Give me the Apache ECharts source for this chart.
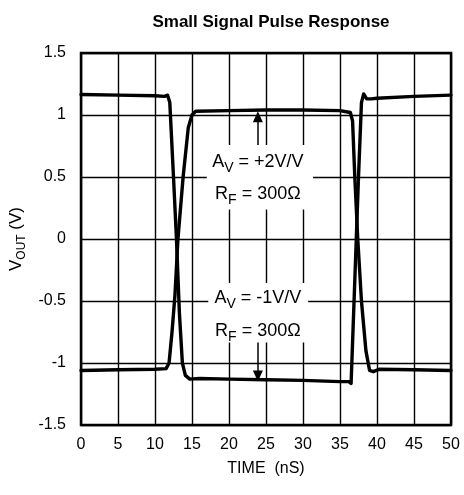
<!DOCTYPE html>
<html><head><meta charset="utf-8">
<script src="https://cdn.jsdelivr.net/npm/echarts/dist/echarts.min.js"></script>
<style>html,body{margin:0;padding:0;background:#fff}#c{width:464px;height:495px}</style>
</head><body><div id="c"></div>
<script>
// Inverting trace (A_V = -1V/V)
const timeInv = [0, 5, 10, 11.3, 11.7, 12.0, 12.5, 12.9, 13.3, 13.7, 14.1, 14.7, 16, 20, 25, 30, 35, 36.2, 36.5, 36.9, 37.2, 37.5, 37.9, 38.2, 38.6, 39.2, 40, 45, 50];
const voutInv = [1.165, 1.16, 1.155, 1.15, 1.16, 1.10, 0.5, 0.0, -0.6, -1.0, -1.1, -1.13, -1.125, -1.13, -1.135, -1.14, -1.15, -1.15, -1.165, -0.5, 0.0, 0.5, 1.1, 1.17, 1.13, 1.13, 1.135, 1.15, 1.16];
// Non-inverting trace (A_V = +2V/V)
const timeNon = [0, 5, 10, 11.5, 11.9, 12.3, 12.7, 13.1, 13.8, 14.5, 15.0, 15.5, 20, 25, 30, 35, 36.4, 36.7, 37.0, 37.4, 37.9, 38.5, 39.0, 39.5, 40.3, 45, 50];
const voutNon = [-1.06, -1.055, -1.05, -1.045, -1.0, -0.75, -0.45, 0.0, 0.5, 0.9, 1.0, 1.03, 1.035, 1.04, 1.04, 1.035, 1.02, 0.95, 0.5, 0.0, -0.5, -0.9, -1.06, -1.07, -1.05, -1.055, -1.06];
const xTicks = [0, 5, 10, 15, 20, 25, 30, 35, 40, 45, 50];
const yTicks = [-1.5, -1, -0.5, 0, 0.5, 1, 1.5];

const chart = echarts.init(document.getElementById('c'), null, {renderer: 'canvas'});
const FONT = '"Liberation Sans", Arial, sans-serif';

const annotations = [
  {lines: ['{a|A}{s|V}{a| = +2V/V}', '{a|R}{s|F}{a| = 300Ω}'], box: [17.0, 0.758, 31.35, 0.238], tx: 23.9, ty: [0.62, 0.365]},
  {lines: ['{a|A}{s|V}{a| = -1V/V}', '{a|R}{s|F}{a| = 300Ω}'], box: [17.2, -0.354, 30.7, -0.834], tx: 23.9, ty: [-0.48, -0.74]}
];

const option = {
  animation: false,
  backgroundColor: '#fff',
  title: {
    text: 'Small Signal Pulse Response', left: 266, top: 9, textAlign: 'center',
    textStyle: {fontFamily: FONT, fontSize: 17, fontWeight: 'bold', color: '#000'}
  },
  grid: {left: 81, right: 13, top: 53, bottom: 70, show: true, borderColor: '#000', borderWidth: 2.5, backgroundColor: 'transparent'},
  xAxis: {
    type: 'value', min: 0, max: 50, interval: 5,
    name: 'TIME  (nS)', nameLocation: 'middle', nameGap: 36,
    nameTextStyle: {fontFamily: FONT, fontSize: 16, color: '#000'},
    axisLine: {show: false}, axisTick: {show: false},
    axisLabel: {fontFamily: FONT, fontSize: 16, color: '#000', margin: 12, formatter: v => xTicks.includes(v) ? String(v) : ''},
    splitLine: {show: true, lineStyle: {color: '#000', width: 1.4}}
  },
  yAxis: {
    type: 'value', min: -1.5, max: 1.5, interval: 0.5,
    name: '{a|V}{s|OUT}{a| (V)}', nameLocation: 'middle', nameGap: 47, nameRotate: 90,
    nameTextStyle: {
      fontFamily: FONT, fontSize: 17, color: '#000',
      rich: {a: {fontFamily: FONT, fontSize: 17, color: '#000'}, s: {fontFamily: FONT, fontSize: 12, color: '#000', padding: [10, 0, 0, 0]}}
    },
    axisLine: {show: false}, axisTick: {show: false},
    axisLabel: {fontFamily: FONT, fontSize: 16, color: '#000', margin: 15, formatter: v => yTicks.includes(v) ? String(v) : ''},
    splitLine: {show: true, lineStyle: {color: '#000', width: 1.4}}
  },
  series: [
    {
      type: 'line', data: timeInv.map((t, i) => [t, voutInv[i]]), showSymbol: false, symbol: 'none',
      lineStyle: {color: '#000', width: 3.4, join: 'round', cap: 'round'}, z: 5
    },
    {
      type: 'line', data: timeNon.map((t, i) => [t, voutNon[i]]), showSymbol: false, symbol: 'none',
      lineStyle: {color: '#000', width: 3.4, join: 'round', cap: 'round'}, z: 5,
      markLine: {
        silent: true, symbol: ['none', 'triangle'], symbolSize: [10, 11],
        lineStyle: {color: '#000', width: 1.5, type: 'solid'}, label: {show: false},
        data: [
          [{coord: [23.9, 0.758]}, {coord: [23.9, 0.985]}],
          [{coord: [23.9, -0.834]}, {coord: [23.9, -1.105]}]
        ]
      }
    }
  ]
};
chart.setOption(option);

const rich = {
  a: {fontFamily: FONT, fontSize: 18, color: '#000'},
  s: {fontFamily: FONT, fontSize: 14, color: '#000', padding: [12, 0, 0, 0]}
};
const gfx = [];
annotations.forEach(an => {
  const p1 = chart.convertToPixel({gridIndex: 0}, [an.box[0], an.box[1]]);
  const p2 = chart.convertToPixel({gridIndex: 0}, [an.box[2], an.box[3]]);
  gfx.push({type: 'rect', shape: {x: p1[0], y: p1[1], width: p2[0] - p1[0], height: p2[1] - p1[1]}, style: {fill: '#fff'}, z: 3});
  an.lines.forEach((ln, k) => {
    const p = chart.convertToPixel({gridIndex: 0}, [an.tx, an.ty[k]]);
    gfx.push({type: 'text', x: p[0], y: p[1], style: {text: ln, rich: rich, align: 'center', verticalAlign: 'middle', fill: '#000'}, z: 4});
  });
});
chart.setOption({graphic: gfx});
</script>
</body></html>
